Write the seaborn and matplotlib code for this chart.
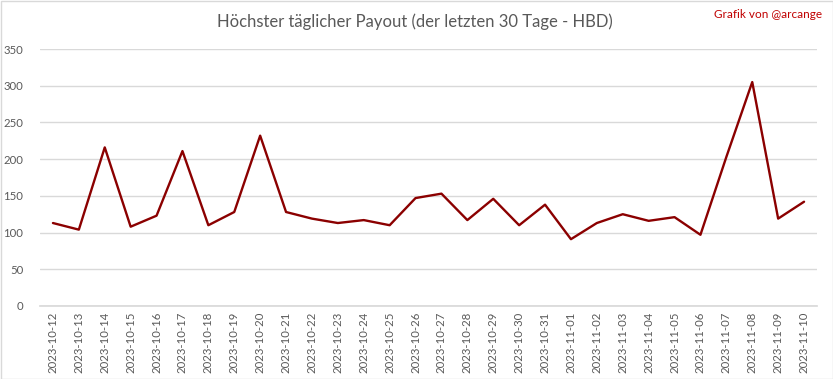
import matplotlib
matplotlib.use("Agg")
import matplotlib.pyplot as plt
import seaborn as sns
import pandas as pd
from matplotlib.patches import Rectangle

dates = ["2023-10-12", "2023-10-13", "2023-10-14", "2023-10-15", "2023-10-16",
         "2023-10-17", "2023-10-18", "2023-10-19", "2023-10-20", "2023-10-21",
         "2023-10-22", "2023-10-23", "2023-10-24", "2023-10-25", "2023-10-26",
         "2023-10-27", "2023-10-28", "2023-10-29", "2023-10-30", "2023-10-31",
         "2023-11-01", "2023-11-02", "2023-11-03", "2023-11-04", "2023-11-05",
         "2023-11-06", "2023-11-07", "2023-11-08", "2023-11-09", "2023-11-10"]
payout = [113, 104, 216, 108, 123, 211, 110, 128, 232, 128,
          119, 113, 117, 110, 147, 153, 117, 146, 110, 138,
          91, 113, 125, 116, 121, 97, 203, 305, 119, 142]
y_ticks = [0, 50, 100, 150, 200, 250, 300, 350]

title = "Höchster täglicher Payout (der letzten 30 Tage - HBD)"
credit = "Grafik von @arcange"

sns.set_theme(style="white")
plt.rcParams['font.family'] = ['Lato', 'DejaVu Sans']

df = pd.DataFrame({"date": dates, "payout": payout})
df["pos"] = range(len(dates))

fig = plt.figure(figsize=(8.33, 3.79), dpi=100)
ax = fig.add_axes([40/833, 1 - 306/379, (817-40)/833, (306-49)/379])

sns.lineplot(data=df, x="pos", y="payout", ax=ax, color="#8B0000", linewidth=1.7)

ax.set_xlim(-0.5, len(dates) - 0.5)
ax.set_ylim(0, 350)
ax.set_yticks(y_ticks)
ax.set_yticklabels([str(v) for v in y_ticks])
ax.set_xticks(list(range(len(dates))))
ax.set_xticklabels(dates, rotation=90)
ax.set_xlabel("")
ax.set_ylabel("")
ax.grid(axis="y", color="#d9d9d9", linewidth=1)
ax.grid(axis="x", visible=False)
for s in ["left", "right", "top"]:
    ax.spines[s].set_visible(False)
ax.spines["bottom"].set_color("#d9d9d9")
ax.tick_params(axis="both", length=0, labelsize=8.2, colors="#595959", pad=4)
ax.tick_params(axis="y", pad=12)

fig.text(415/833, 1 - 22/379, title, ha="center", va="center", fontsize=12, color="#595959")
fig.text(822/833, 1 - 15/379, credit, ha="right", va="center", fontsize=8.5, color="#C00000")

fig.patches.append(Rectangle((0.5/833, 0.5/379), 1 - 1/833, 1 - 1/379, transform=fig.transFigure,
                             fill=False, edgecolor="#d9d9d9", linewidth=1))

fig.savefig("out.png", dpi=100)
